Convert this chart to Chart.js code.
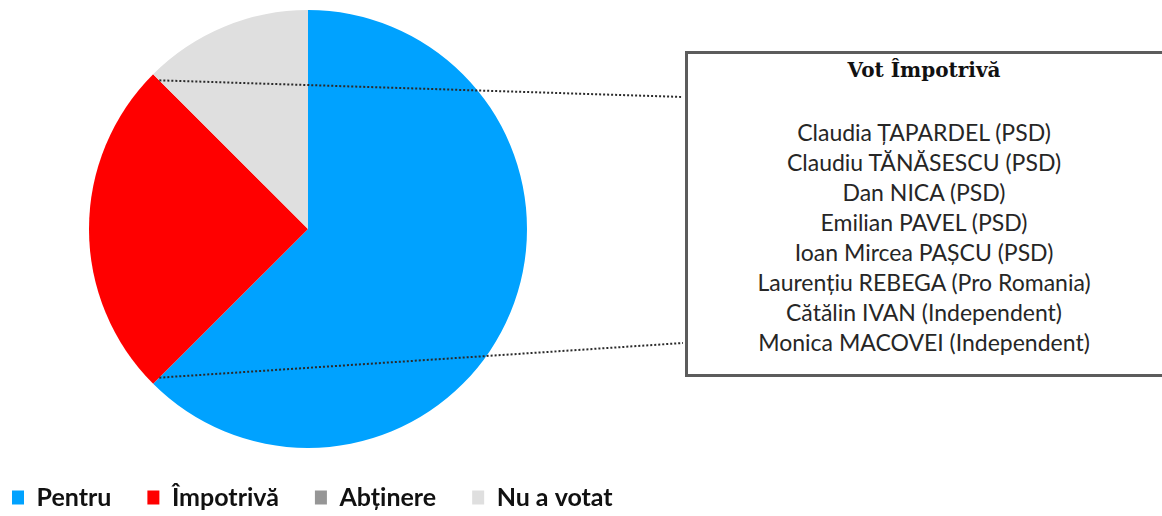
<!DOCTYPE html>
<html>
<head>
<meta charset="utf-8">
<script src="https://cdn.jsdelivr.net/npm/chart.js@4.4.0/dist/chart.umd.min.js"></script>
<style>
    body { margin: 0; background: #fff; overflow: hidden; }
    #contenedor { position: relative; width: 1162px; height: 516px; }
    #grafico { position: absolute; left: 0; top: 0; }
    #caja {
        position: absolute; left: 685px; top: 51px;
        width: 560px; height: 320px;
        border: 3px solid #5c5c5c;
        background: #fff;
    }
    #caja-texto { position: absolute; left: 0; top: 0; width: 472px; text-align: center; color: #262626; }
    #caja-titulo {
        position: absolute; left: 0; top: 4px; width: 100%;
        font: bold 20px/24px "DejaVu Serif", serif; color: #111;
    }
    #caja-nombres {
        position: absolute; left: 0; top: 63px; width: 100%;
        font: 23px/30px Lato, "Open Sans", sans-serif;
    }
</style>
</head>
<body>
<div id="contenedor">
    <div id="caja">
        <div id="caja-texto">
            <div id="caja-titulo"></div>
            <div id="caja-nombres"></div>
        </div>
    </div>
    <canvas id="grafico" width="1162" height="516"></canvas>
</div>
<script>
// Datos del grafico
const categorias = ['Pentru', 'Împotrivă', 'Abținere', 'Nu a votat'];
const votos = [20, 8, 0, 4];
const colores = ['#00a2ff', '#ff0000', '#969696', '#dfdfdf'];

// Contenido del recuadro
const tituloCaja = 'Vot Împotrivă';
const votosEnContra = [
    'Claudia ȚAPARDEL (PSD)',
    'Claudiu TĂNĂSESCU (PSD)',
    'Dan NICA (PSD)',
    'Emilian PAVEL (PSD)',
    'Ioan Mircea PAȘCU (PSD)',
    'Laurențiu REBEGA (Pro Romania)',
    'Cătălin IVAN (Independent)',
    'Monica MACOVEI (Independent)'
];

document.getElementById('caja-titulo').textContent = tituloCaja;
document.getElementById('caja-nombres').innerHTML = votosEnContra.join('<br>');

//La leyenda ocupa todo el ancho, pero la torta solo la parte izquierda
const areaTorta = {
    id: 'areaTorta',
    afterLayout(chart) {
        const area = chart.chartArea;
        area.left = 0;
        area.right = 616;
        area.width = area.right - area.left;
    }
};

//Lineas punteadas que unen la porcion roja con el recuadro
const lineasGuia = {
    id: 'lineasGuia',
    afterDatasetsDraw(chart) {
        const arco = chart.getDatasetMeta(0).data[1];
        const caja = document.getElementById('caja');
        const xCaja = caja.offsetLeft - 2;
        const yArriba = caja.offsetTop + 46;
        const yAbajo = caja.offsetTop + caja.offsetHeight - 34;
        const r = arco.outerRadius * 0.96;
        const ctx = chart.ctx;

        ctx.save();
        ctx.strokeStyle = '#2a2a2a';
        ctx.lineWidth = 2;
        ctx.setLineDash([2, 2]);
        ctx.beginPath();
        ctx.moveTo(arco.x + r * Math.cos(arco.endAngle), arco.y + r * Math.sin(arco.endAngle));
        ctx.lineTo(xCaja, yArriba);
        ctx.moveTo(arco.x + r * Math.cos(arco.startAngle), arco.y + r * Math.sin(arco.startAngle));
        ctx.lineTo(xCaja, yAbajo);
        ctx.stroke();
        ctx.restore();
    }
};

const ctx = document.getElementById('grafico').getContext('2d');

const graficoTorta = new Chart(ctx, {
    type: 'pie',
    data: {
        labels: categorias,
        datasets: [{
            data: votos,
            backgroundColor: colores,
            borderWidth: 0,
            radius: 219
        }]
    },
    options: {
        responsive: false,
        animation: false,
        devicePixelRatio: 1,
        layout: {
            padding: { left: -24, right: 0, top: 9, bottom: -4 }
        },
        plugins: {
            tooltip: { enabled: false },
            legend: {
                position: 'bottom',
                align: 'start',
                labels: {
                    boxWidth: 12,
                    boxHeight: 14,
                    padding: 36,
                    color: '#111',
                    font: { family: 'Lato', size: 25, weight: 'bold' }
                }
            }
        }
    },
    plugins: [areaTorta, lineasGuia]
});
</script>
</body>
</html>
